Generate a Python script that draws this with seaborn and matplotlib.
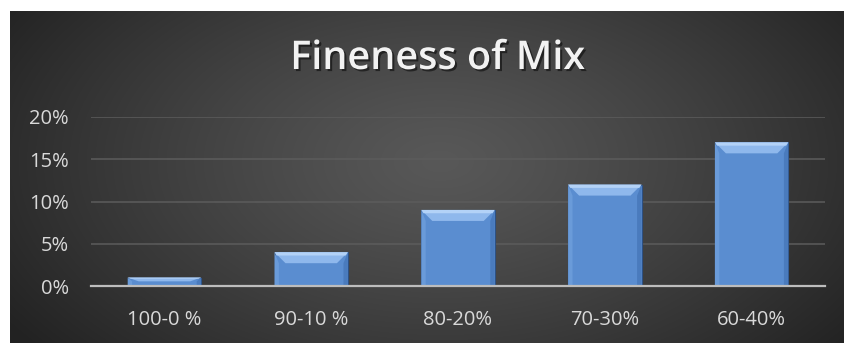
import numpy as np
import pandas as pd
import matplotlib
matplotlib.use("Agg")
import matplotlib.pyplot as plt
import matplotlib.patheffects as pe
from matplotlib.patches import Polygon
from matplotlib.ticker import FuncFormatter
import seaborn as sns

categories = ["100-0 %", "90-10 %", "80-20%", "70-30%", "60-40%"]
values = [1, 4, 9, 12, 17]
yticks = [0, 5, 10, 15, 20]
title = "Fineness of Mix"

sns.set_theme(style="dark")
plt.rcParams["font.family"] = ["Open Sans", "DejaVu Sans"]

W, H = 845, 343
fig = plt.figure(figsize=(W / 100, H / 100), dpi=100, facecolor="white")

# background radial gradient
bg = fig.add_axes([10 / W, 0, (W - 10) / W, (H - 11) / H])
ny, nx = 332, 835
yy, xx = np.mgrid[0:ny, 0:nx]
cx, cy = 430, 150
r = np.sqrt(((xx - cx) / 520) ** 2 + ((yy - cy) / 300) ** 2)
r = np.clip(r, 0, 1)
c0, c1 = 0x58 / 255, 0x22 / 255
img = c0 + (c1 - c0) * r ** 1.2
bg.imshow(np.dstack([img, img, img]), aspect="auto", extent=[0, 1, 0, 1])
bg.set_axis_off()

ax = fig.add_axes([91 / W, (H - 286) / H, 734 / W, (286 - 117) / H])
ax.set_facecolor("none")
df = pd.DataFrame({"cat": categories, "val": values})
sns.barplot(data=df, x="cat", y="val", ax=ax, color="#5a8dd0", width=0.5,
            edgecolor="#2d5184", linewidth=0.8, saturation=1, zorder=3)

ax.set_ylim(0, 20)
ax.set_xlim(-0.5, len(categories) - 0.5)
ax.set_yticks(yticks)
ax.yaxis.set_major_formatter(FuncFormatter(lambda v, p: f"{v:.0f}%"))
ax.set_xlabel("")
ax.set_ylabel("")
ax.grid(axis="y", color="#5c5c5c", linewidth=1.1, zorder=0)
ax.grid(axis="x", visible=False)
for s in ["top", "right", "left"]:
    ax.spines[s].set_visible(False)
ax.spines["bottom"].set_color("#bdbdbd")
ax.spines["bottom"].set_linewidth(1.6)
ax.spines["bottom"].set_zorder(5)
ax.tick_params(axis="both", length=0, labelsize=14.5, colors="#d9d9d9")
ax.tick_params(axis="y", pad=16)
ax.tick_params(axis="x", pad=17)

# bevel shading on each bar derived from the drawn patch
ppu_y = (286 - 117) / 20.0
for p in list(ax.patches):
    x0, w, h = p.get_x(), p.get_width(), p.get_height()
    x1 = x0 + w
    bh = min(11 / ppu_y, 0.45 * h)
    bw = 11 / 146.8
    top = Polygon([[x0, h], [x1, h], [x1 - bw, h - bh], [x0 + bw, h - bh]],
                  closed=True, facecolor="#8fb8ec", edgecolor="none", zorder=4)
    left = Polygon([[x0, h], [x0 + bw * 0.4, h - bh], [x0 + bw * 0.4, 0], [x0, 0]],
                   closed=True, facecolor="#6a9bd9", edgecolor="none", zorder=4)
    right = Polygon([[x1, h], [x1 - bw * 0.4, h - bh], [x1 - bw * 0.4, 0], [x1, 0]],
                    closed=True, facecolor="#4a7bbd", edgecolor="none", zorder=4)
    hl = Polygon([[x0, h], [x1, h], [x1 - bw * 0.2, h - bh * 0.3], [x0 + bw * 0.2, h - bh * 0.3]],
                 closed=True, facecolor="#b3d2f7", edgecolor="none", zorder=4)
    for poly in (top, left, right, hl):
        ax.add_patch(poly)

fig.text(438 / W, 1 - 59 / H, title, ha="center", va="center", color="#f2f2f2",
         fontsize=28.5, fontweight="semibold",
         path_effects=[pe.withSimplePatchShadow(offset=(1.5, -1.5), shadow_rgbFace="black", alpha=0.5)])

fig.savefig("out.png", dpi=100, facecolor="white")
